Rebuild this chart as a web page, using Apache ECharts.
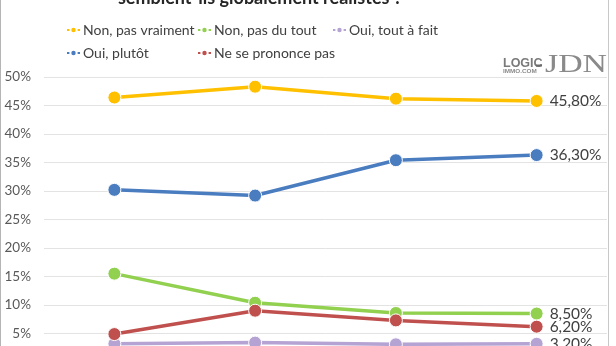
<!DOCTYPE html>
<html>
<head>
<meta charset="utf-8">
<script src="https://cdn.jsdelivr.net/npm/echarts@6/dist/echarts.min.js"></script>
<style>
  html, body { margin: 0; padding: 0; background: #fff; }
  #chart { width: 616px; height: 346px; }
</style>
</head>
<body>
<div id="chart"></div>
<script>
// Survey waves (x positions) and answer shares, in percent
const categories = ['V1', 'V2', 'V3', 'V4'];
const nonPasVraiment = [46.4, 48.3, 46.2, 45.8];
const ouiPlutot = [30.2, 29.2, 35.4, 36.3];
const nonPasDuTout = [15.5, 10.4, 8.6, 8.5];
const neSePrononcePas = [4.9, 9.0, 7.3, 6.2];
const ouiToutAFait = [3.2, 3.4, 3.1, 3.2];
const yTicks = [0, 5, 10, 15, 20, 25, 30, 35, 40, 45, 50];

const FONT = 'Lato, "Open Sans", sans-serif';
const TXT = '#404040';

function fr(v) {
  return v.toFixed(2).replace('.', ',') + '%';
}

function lineSeries(name, data, color) {
  return {
    name: name,
    type: 'line',
    data: data,
    symbol: 'circle',
    symbolSize: 13,
    lineStyle: { width: 3.5, color: color },
    itemStyle: { color: color, borderColor: '#fff', borderWidth: 1 },
    label: {
      show: true,
      position: 'right',
      distance: 6,
      fontFamily: FONT,
      fontSize: 15.5,
      color: TXT,
      formatter: p => (p.dataIndex === data.length - 1 ? fr(p.value) : '')
    },
    emphasis: { disabled: true },
    animation: false
  };
}

const chart = echarts.init(document.getElementById('chart'), null, { renderer: 'canvas' });

const legendCommon = {
  orient: 'vertical',
  top: 18,
  itemWidth: 13,
  itemHeight: 8,
  itemGap: 9,
  textStyle: { fontFamily: FONT, fontSize: 14, color: TXT, padding: [0, 0, 0, -2] },
  selectedMode: false
};

chart.setOption({
  backgroundColor: '#fff',
  grid: { left: 44, right: 9, top: 77, height: 285, outerBoundsMode: 'none', containLabel: false },
  legend: [
    Object.assign({ left: 61, data: ['Non, pas vraiment', 'Oui, plutôt'] }, legendCommon),
    Object.assign({ left: 192, data: ['Non, pas du tout', 'Ne se prononce pas'] }, legendCommon),
    Object.assign({ left: 327, data: ['Oui, tout à fait'] }, legendCommon)
  ],
  xAxis: {
    type: 'category',
    data: categories,
    boundaryGap: true,
    axisLine: { show: false },
    axisTick: { show: false },
    axisLabel: { show: false }
  },
  yAxis: {
    type: 'value',
    min: yTicks[0],
    max: yTicks[yTicks.length - 1],
    interval: 5,
    axisLine: { show: false },
    axisTick: { show: false },
    splitLine: { lineStyle: { color: '#e3e3e3', width: 1 } },
    axisLabel: {
      fontFamily: FONT,
      fontSize: 13.5,
      color: '#595959',
      margin: 13,
      formatter: v => v + '%'
    }
  },
  series: [
    lineSeries('Non, pas vraiment', nonPasVraiment, '#FFC000'),
    lineSeries('Non, pas du tout', nonPasDuTout, '#92D050'),
    lineSeries('Oui, tout à fait', ouiToutAFait, '#B4A3D3'),
    lineSeries('Oui, plutôt', ouiPlutot, '#4A7CC0'),
    lineSeries('Ne se prononce pas', neSePrononcePas, '#C0504D')
  ],
  graphic: [
    // frame edges
    { type: 'line', shape: { x1: 0.5, y1: 0, x2: 0.5, y2: 346 }, style: { stroke: '#b5b5b5', lineWidth: 1 }, silent: true },
    { type: 'line', shape: { x1: 608.5, y1: 0, x2: 608.5, y2: 346 }, style: { stroke: '#c8c8c8', lineWidth: 1 }, silent: true },
    // headline (second line of the question)
    {
      type: 'text', x: 260, y: -11,
      style: {
        text: 'semblent-ils globalement réalistes ?',
        fontFamily: FONT, fontSize: 18, fontWeight: 'bold', fill: '#262626', align: 'center'
      },
      silent: true
    },
    // source logo
    {
      type: 'text', x: 503, y: 57,
      style: { text: 'LOGIC', fontFamily: '"Liberation Sans", sans-serif', fontSize: 12.5, fontWeight: 'bold', fill: '#7a7a7a' },
      silent: true
    },
    {
      type: 'text', x: 503, y: 68.5, scaleX: 1.15,
      style: { text: 'IMMO.COM', fontFamily: '"Liberation Sans", sans-serif', fontSize: 5.5, fontWeight: 'bold', fill: '#8a8a8a' },
      silent: true
    },
    {
      type: 'rect', shape: { x: 536, y: 64.5, width: 6, height: 2 },
      style: { fill: '#6a6a6a' },
      z: 10,
      silent: true
    },
    {
      type: 'text', x: 545, y: 52, scaleX: 1.3,
      style: { text: 'JDN', fontFamily: '"Liberation Serif", "DejaVu Serif", serif', fontSize: 26, fill: '#8a8a8a' },
      silent: true
    }
  ]
});
</script>
</body>
</html>
